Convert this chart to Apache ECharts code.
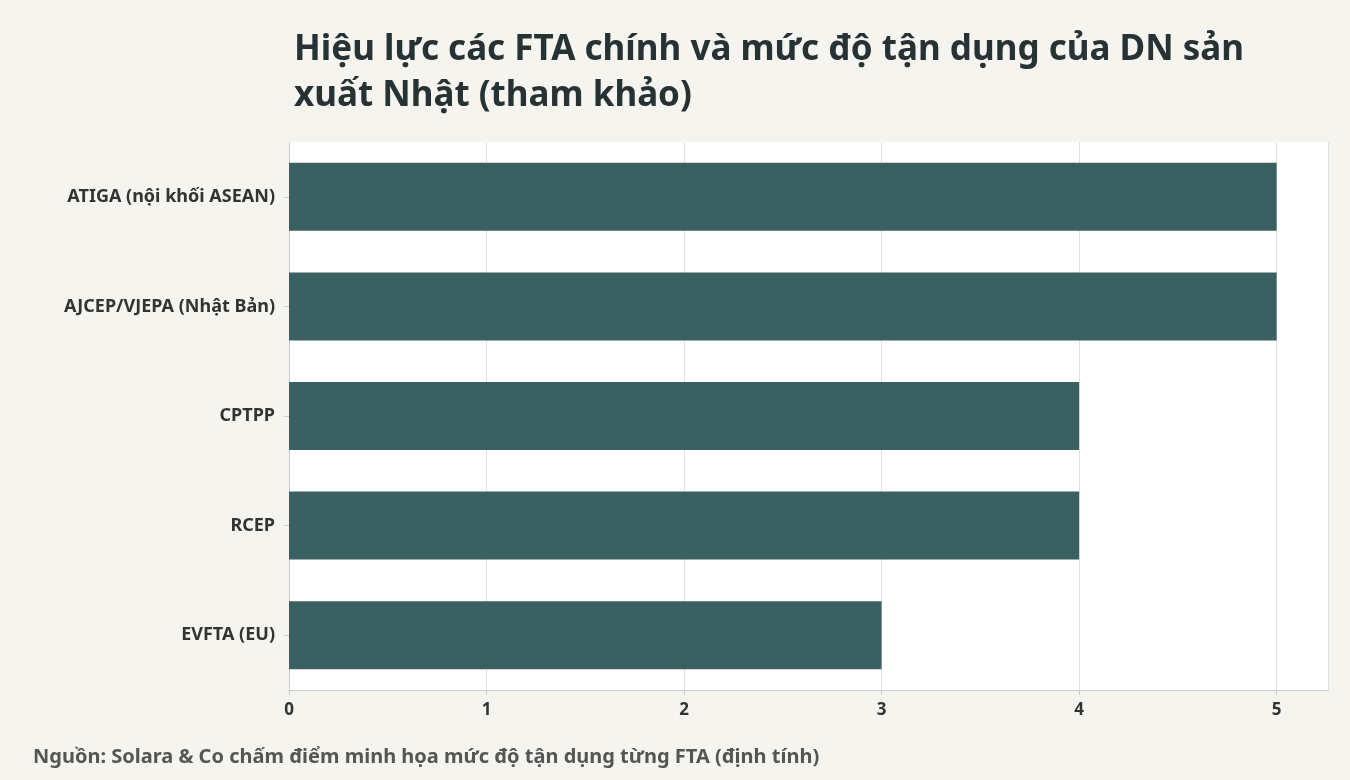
<!DOCTYPE html>
<html><head><meta charset="utf-8">
<script src="https://cdn.jsdelivr.net/npm/echarts@6/dist/echarts.min.js"></script>
<style>html,body{margin:0;background:#f5f4ef}#c{width:1350px;height:780px}</style>
</head><body><div id="c"></div>
<script>
const categories = ["ATIGA (nội khối ASEAN)","AJCEP/VJEPA (Nhật Bản)","CPTPP","RCEP","EVFTA (EU)"];
const values = [5,5,4,4,3];
const chart = echarts.init(document.getElementById('c'));
chart.setOption({
  backgroundColor:'#f5f4ef',
  textStyle:{fontFamily:'Noto Sans'},
  title:[{text:'Hiệu lực các FTA chính và mức độ tận dụng của DN sản\nxuất Nhật (tham khảo)',left:289,top:22,
    textStyle:{fontSize:35,fontWeight:'bold',color:'#263234',lineHeight:46,fontFamily:'Noto Sans'}},
    {text:'Nguồn: Solara & Co chấm điểm minh họa mức độ tận dụng từng FTA (định tính)',left:28,top:742,
    textStyle:{fontSize:20,fontWeight:'bold',color:'#555',fontFamily:'Noto Sans'}}],
  grid:{left:289,right:22,top:142,bottom:90,show:true,backgroundColor:'#fff',borderWidth:0},
  xAxis:{type:'value',min:0,max:5.26,interval:1,
    axisLabel:{fontSize:17,fontWeight:'bold',color:'#333',showMaxLabel:false,margin:12},
    axisLine:{show:true,lineStyle:{color:'#ccc'}},axisTick:{show:true,lineStyle:{color:'#ccc'}},
    splitLine:{lineStyle:{color:'#e0e0e0'}}},
  yAxis:{type:'category',data:categories,inverse:true,
    axisLabel:{fontSize:18,fontWeight:'bold',color:'#333',margin:14},
    axisLine:{show:true,lineStyle:{color:'#ccc'}},axisTick:{show:true,alignWithLabel:true,lineStyle:{color:'#ccc'}}},
  series:[{type:'bar',data:values,barWidth:'62%',itemStyle:{color:'#3a6062'}}]
});
</script></body></html>
